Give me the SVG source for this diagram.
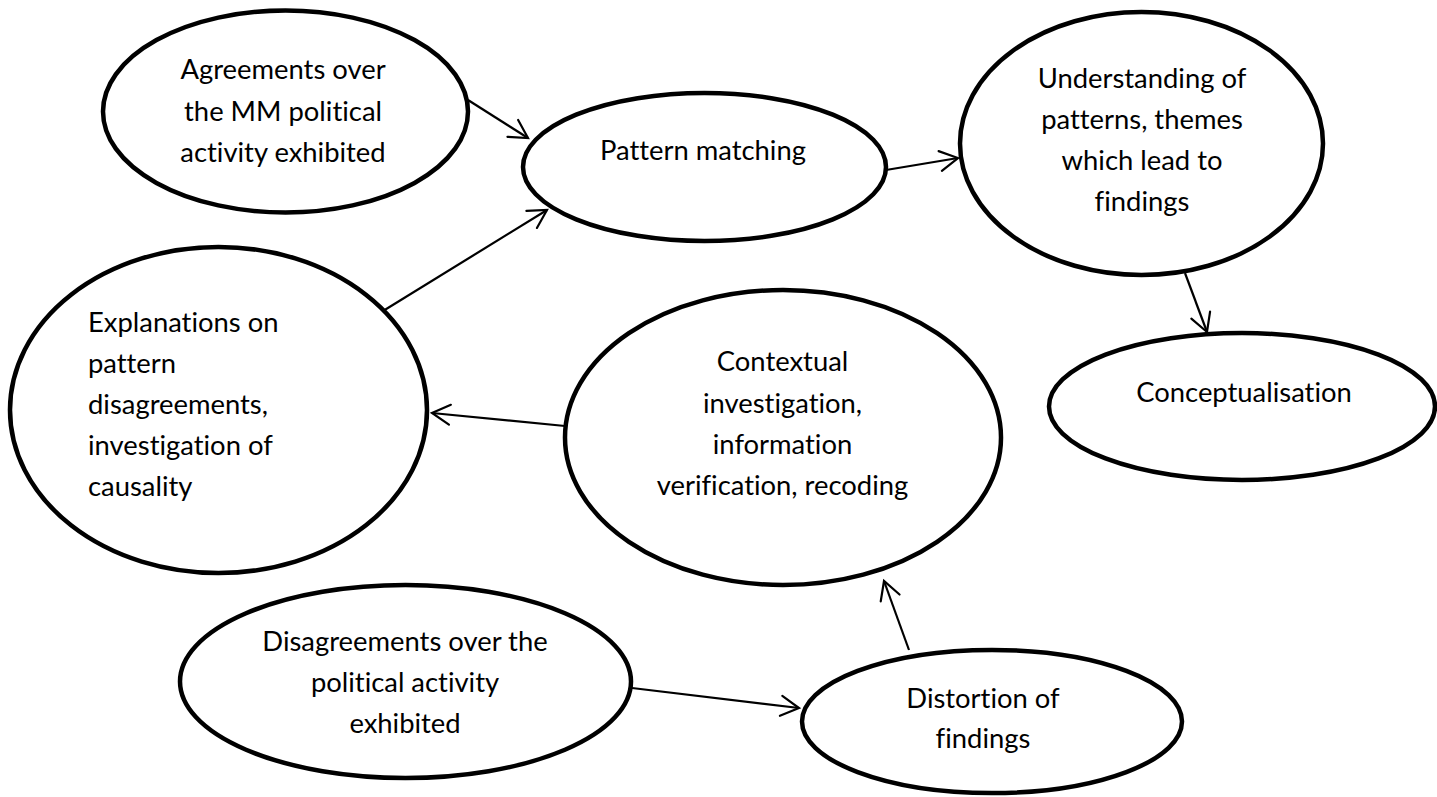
<svg xmlns="http://www.w3.org/2000/svg" width="1437" height="797" viewBox="0 0 1437 797">
  <defs>
    <marker id="arrow" markerUnits="userSpaceOnUse" markerWidth="24" markerHeight="24" viewBox="-22 -12 24 24" refX="0" refY="0" orient="auto" overflow="visible">
      <path d="M-18,-10 L0,0 L-18,10" fill="none" stroke="#000" stroke-width="2.2" stroke-linecap="round" stroke-linejoin="miter"/>
    </marker>
  </defs>
  <style>
    .node ellipse { fill: #fff; stroke: #000; stroke-width: 4.5; }
    .node text { font-family: Lato, "Open Sans", sans-serif; font-size: 27.4px; fill: #000; font-variant-ligatures: none; }
    .c { text-anchor: middle; }
    .l { text-anchor: start; }
    .edges line { stroke: #000; stroke-width: 2.2; fill: none; marker-end: url(#arrow); }
  </style>
  <rect width="1437" height="797" fill="#fff"/>

  <g class="edges" id="connectors">
    <line x1="468" y1="100" x2="528" y2="138"/>
    <line x1="886" y1="170" x2="958" y2="158"/>
    <line x1="1185" y1="273" x2="1207" y2="332"/>
    <line x1="383" y1="311" x2="547" y2="210"/>
    <line x1="565" y1="426" x2="432" y2="413"/>
    <line x1="632" y1="688" x2="799" y2="708"/>
    <line x1="909" y1="650" x2="884" y2="581"/>
  </g>

  <g class="node" id="agreements">
    <ellipse cx="285.5" cy="111.5" rx="182.5" ry="101"/>
    <text class="c" x="283" y="79">Agreements over</text>
    <text class="c" x="283" y="120.5">the MM political</text>
    <text class="c" x="283" y="161.5">activity exhibited</text>
  </g>

  <g class="node" id="pattern-matching">
    <ellipse cx="704.5" cy="167" rx="181.5" ry="74"/>
    <text class="c" x="703" y="160">Pattern matching</text>
  </g>

  <g class="node" id="understanding">
    <ellipse cx="1141.5" cy="143.5" rx="181.5" ry="131.5"/>
    <text class="c" x="1142" y="88">Understanding of</text>
    <text class="c" x="1142" y="129">patterns, themes</text>
    <text class="c" x="1142" y="170">which lead to</text>
    <text class="c" x="1142" y="210.5">findings</text>
  </g>

  <g class="node" id="conceptualisation">
    <ellipse cx="1242" cy="406.5" rx="193" ry="73.5"/>
    <text class="c" x="1244" y="402">Conceptualisation</text>
  </g>

  <g class="node" id="explanations">
    <ellipse cx="218.5" cy="410" rx="208.5" ry="163"/>
    <text class="l" x="88" y="332">Explanations on</text>
    <text class="l" x="88" y="373">pattern</text>
    <text class="l" x="88" y="414">disagreements,</text>
    <text class="l" x="88" y="455">investigation of</text>
    <text class="l" x="88" y="496">causality</text>
  </g>

  <g class="node" id="contextual">
    <ellipse cx="783" cy="437.5" rx="218" ry="147.5"/>
    <text class="c" x="782.5" y="371">Contextual</text>
    <text class="c" x="782.5" y="413">investigation,</text>
    <text class="c" x="782.5" y="454">information</text>
    <text class="c" x="782.5" y="495">verification, recoding</text>
  </g>

  <g class="node" id="disagreements">
    <ellipse cx="405.5" cy="681.5" rx="225.5" ry="96.5"/>
    <text class="c" x="405" y="650.5">Disagreements over the</text>
    <text class="c" x="405" y="691.5">political activity</text>
    <text class="c" x="405" y="732.5">exhibited</text>
  </g>

  <g class="node" id="distortion">
    <ellipse cx="992" cy="721.5" rx="190" ry="71.5"/>
    <text class="c" x="983" y="708">Distortion of</text>
    <text class="c" x="983" y="748">findings</text>
  </g>
</svg>
